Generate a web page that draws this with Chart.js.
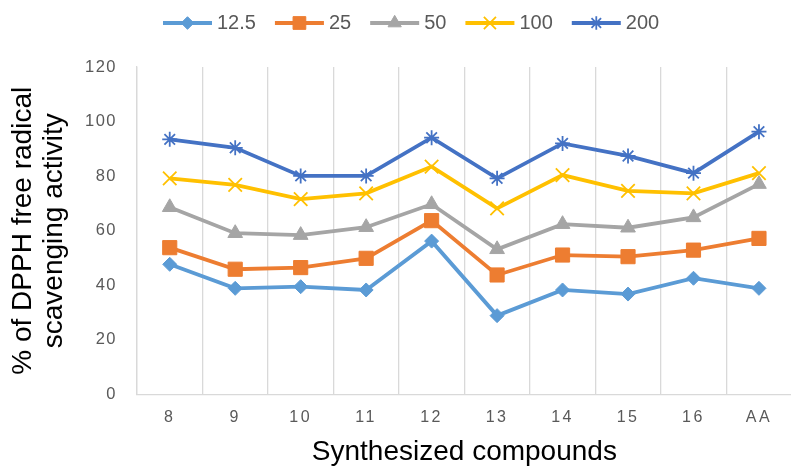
<!DOCTYPE html>
<html><head><meta charset="utf-8">
<script src="https://cdn.jsdelivr.net/npm/chart.js@4/dist/chart.umd.min.js"></script>
<style>html,body{margin:0;padding:0;overflow:hidden;background:#fff;width:791px;height:466px}canvas{display:block}</style>
</head><body>
<canvas id="c" width="803" height="466"></canvas>
<script>
const categories = ['8','9','10','11','12','13','14','15','16','AA'];
const seriesNames = ['12.5','25','50','100','200'];
const s12_5 = [47.7, 38.9, 39.5, 38.3, 56.2, 28.9, 38.3, 36.8, 42.6, 38.9];
const s25   = [53.8, 45.9, 46.5, 49.9, 63.7, 43.8, 51.1, 50.5, 52.9, 57.2];
const s50   = [68.6, 59.1, 58.4, 61.3, 69.7, 53.2, 62.4, 61.1, 64.9, 77.1];
const s100  = [79.2, 76.8, 71.6, 73.7, 83.5, 68.2, 80.4, 74.6, 73.7, 81.1];
const s200  = [93.5, 90.4, 80.1, 80.1, 94.1, 79.2, 92.0, 87.4, 81.1, 96.3];
const yMin = 0, yMax = 120, yStep = 20;

const seriesValues = [s12_5, s25, s50, s100, s200];
const colors = ['#5B9BD5', '#ED7D31', '#A5A5A5', '#FFC000', '#4472C4'];
const styles = ['rectRot', 'rect', 'triangle', 'crossRot', 'star'];
const radii = [7, 10, 8.5, 9.5, 7.5];
const pBorder = [1, 1, 1, 1.8, 1.8];

Chart.defaults.font.family = '"Liberation Sans", Arial, sans-serif';

const datasets = seriesNames.map((n, i) => ({
  label: n,
  data: seriesValues[i],
  borderColor: colors[i],
  backgroundColor: colors[i],
  pointBackgroundColor: colors[i],
  pointBorderColor: colors[i],
  pointStyle: styles[i],
  pointRadius: radii[i],
  pointBorderWidth: pBorder[i],
  borderWidth: 3.8,
  tension: 0,
  order: 5 - i
}));

const legendPlugin = {
  id: 'customLegend',
  afterDraw(chart) {
    const ctx = chart.ctx;
    ctx.save();
    ctx.font = '20px "Liberation Sans", Arial, sans-serif';
    ctx.textBaseline = 'middle';
    ctx.textAlign = 'left';
    const y = 23;
    let x = 163;
    chart.data.datasets.forEach(ds => {
      ctx.strokeStyle = ds.borderColor;
      ctx.lineWidth = 4;
      ctx.beginPath(); ctx.moveTo(x, y); ctx.lineTo(x + 49, y); ctx.stroke();
      ctx.fillStyle = ds.borderColor;
      ctx.lineWidth = ds.pointBorderWidth;
      Chart.helpers.drawPoint(ctx, {pointStyle: ds.pointStyle, radius: ds.pointRadius * 0.9, borderWidth: ds.pointBorderWidth, rotation: 0}, x + 24.5, y);
      ctx.fillStyle = '#595959';
      ctx.fillText(ds.label, x + 54, y);
      x += 54 + ctx.measureText(ds.label).width + 19;
    });
    ctx.restore();
  }
};

const spacingPlugin = {
  id: 'spacing',
  beforeDraw(chart) {
    [['x', '2.5px'], ['y', '1.5px']].forEach(([id, sp]) => {
      const s = chart.scales[id];
      if (!s || s._spPatched) return;
      const orig = s.drawLabels;
      s.drawLabels = function (a) {
        const c = this.ctx;
        const prev = c.letterSpacing;
        c.letterSpacing = sp;
        orig.call(this, a);
        c.letterSpacing = prev || '0px';
      };
      s._spPatched = true;
    });
  }
};

new Chart(document.getElementById('c'), {
  type: 'line',
  data: { labels: categories, datasets },
  options: {
    responsive: false,
    animation: false,
    layout: { padding: { top: 67, left: 0, right: 0, bottom: 0 } },
    plugins: { legend: { display: false }, tooltip: { enabled: false } },
    scales: {
      x: {
        type: 'category',
        offset: true,
        grid: { display: true, offset: true, color: '#d9d9d9', lineWidth: 1.3, drawTicks: false },
        border: { display: true, color: '#d9d9d9', width: 1.3 },
        ticks: { color: '#595959', font: { size: 16 }, padding: 13 },
        title: { display: true, text: 'Synthesized compounds', color: '#000', font: { size: 28, lineHeight: 1 }, padding: { top: 0, bottom: 0 } },
        afterFit(s) { s.height = 71.5; }
      },
      y: {
        min: yMin, max: yMax,
        ticks: { stepSize: yStep, color: '#595959', font: { size: 16.5 }, padding: 20 },
        grid: { display: false, drawTicks: false },
        border: { display: true, color: '#d9d9d9', width: 1.3 },
        title: { display: true, text: ['% of DPPH free radical', 'scavenging activity'], color: '#000', font: { size: 28, lineHeight: 1.1 }, padding: { top: 8, bottom: 0 } },
        afterFit(s) { s.width = 137; }
      }
    }
  },
  plugins: [legendPlugin, spacingPlugin]
});
</script>
</body></html>
